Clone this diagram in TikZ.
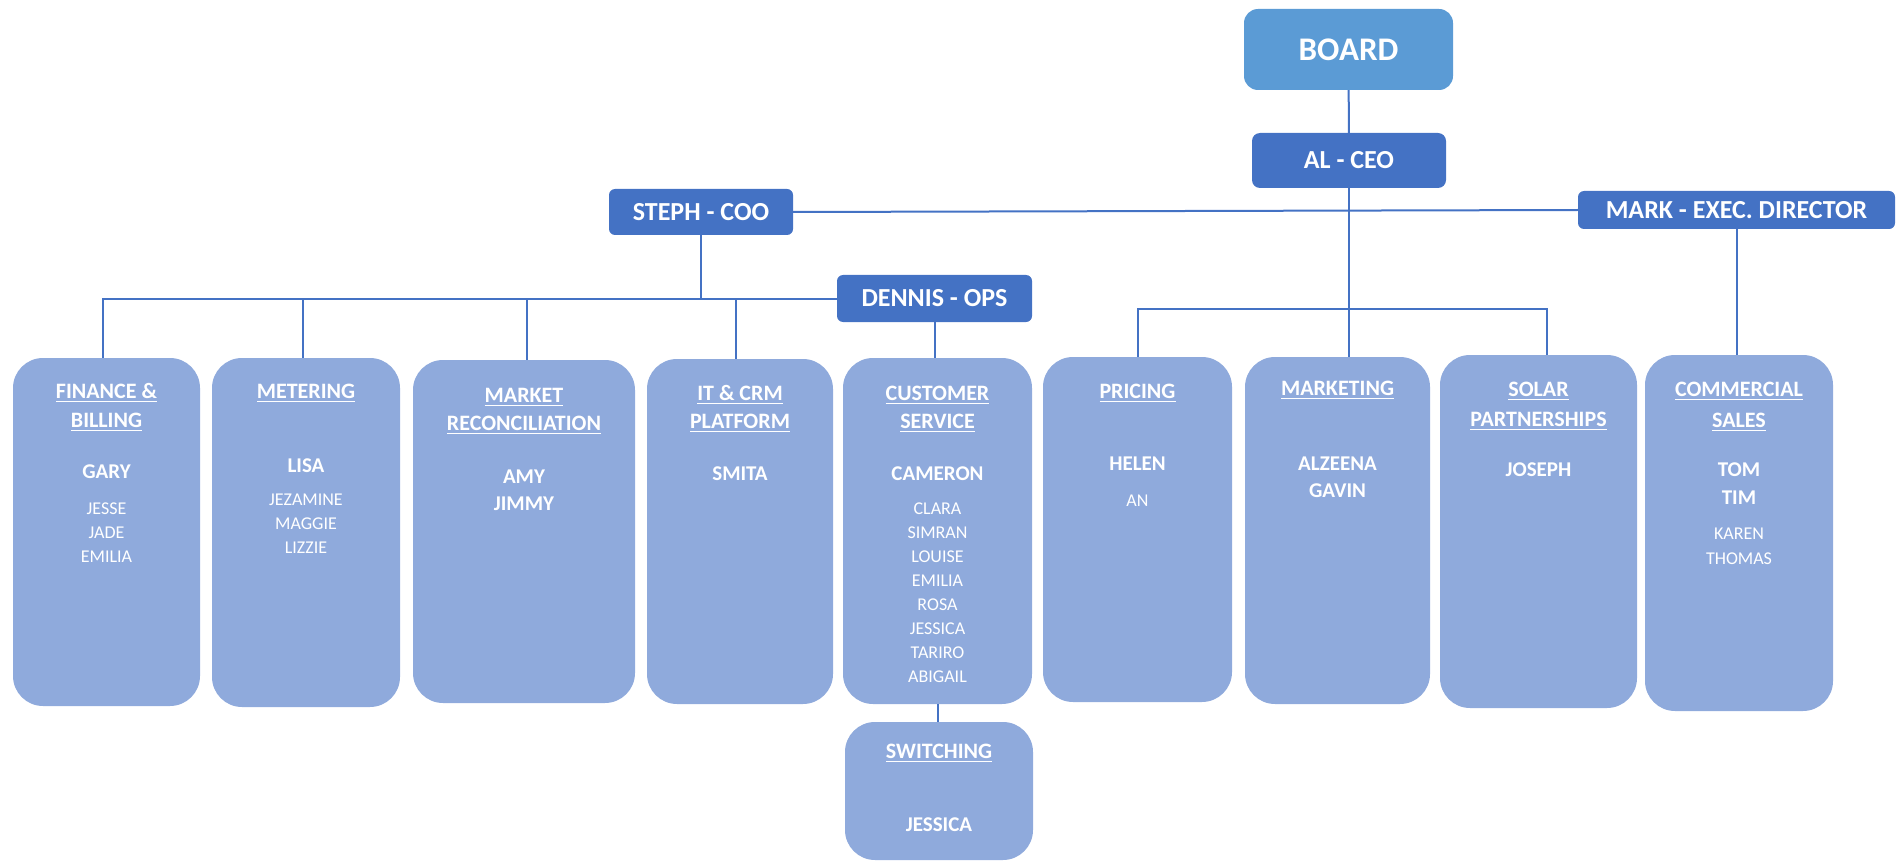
\documentclass[tikz,border=0pt]{standalone}
\usepackage{fontspec}
\setmainfont{Carlito}
\definecolor{darkbox}{RGB}{68,114,196}
\definecolor{boardbox}{RGB}{91,155,213}
\definecolor{unitbox}{RGB}{143,170,220}
\definecolor{linecol}{RGB}{68,114,196}
\newsavebox\ulbox
\newcommand{\ulin}[1]{\sbox\ulbox{#1}\rlap{\rule[-4pt]{\wd\ulbox}{1.5pt}}\usebox\ulbox}
\begin{document}
\begin{tikzpicture}[x=1pt,y=-1pt,
  headbox/.style={rectangle, rounded corners=6pt, fill=darkbox, text=white, inner sep=0pt,
    font=\bfseries\fontsize{26}{30}\selectfont},
  boardnode/.style={rectangle, rounded corners=14pt, fill=boardbox, text=white, inner sep=0pt,
    font=\bfseries\fontsize{33}{38}\selectfont},
  unit/.style={rectangle, rounded corners=30pt, fill=unitbox, inner sep=0pt},
  hdrtxt/.style={text=white, inner sep=0pt, anchor=base, font=\bfseries\fontsize{22}{26}\selectfont},
  leadtxt/.style={text=white, inner sep=0pt, anchor=base, font=\bfseries\fontsize{21}{25}\selectfont},
  stafftxt/.style={text=white, inner sep=0pt, anchor=base, font=\fontsize{18}{21}\selectfont},
  conn/.style={draw=linecol, line width=2pt}]
\useasboundingbox (0,0) rectangle (1899,861);

% ---- top level boxes
\node[boardnode, minimum width=209pt, minimum height=81pt] (board) at (1348.5,49.5) {BOARD};
\node[headbox, rounded corners=8pt, minimum width=194pt, minimum height=55pt] (ceo) at (1349,160.5) {AL - CEO};
\node[headbox, minimum width=184pt, minimum height=46pt] (steph) at (701,212) {STEPH - COO};
\node[headbox, minimum width=317pt, minimum height=38pt] (mark) at (1736.5,210) {MARK - EXEC. DIRECTOR};
\node[headbox, minimum width=195pt, minimum height=47pt] (dennis) at (934.5,298.5) {DENNIS - OPS};

% ---- unit boxes
\node[unit, minimum width=187pt, minimum height=348pt] (fin) at (106.5,532) {};
\node[unit, minimum width=188pt, minimum height=349pt] (met) at (306,532.5) {};
\node[unit, minimum width=222pt, minimum height=343pt] (mrec) at (524,531.5) {};
\node[unit, minimum width=186pt, minimum height=345pt] (itc) at (740,531.5) {};
\node[unit, minimum width=189pt, minimum height=346pt] (cs) at (937.5,531) {};
\node[unit, minimum width=188pt, minimum height=138pt] (sw) at (939,791) {};
\node[unit, minimum width=189pt, minimum height=345pt] (pri) at (1137.5,529.5) {};
\node[unit, minimum width=185pt, minimum height=347pt] (mkt) at (1337.5,530.5) {};
\node[unit, minimum width=197pt, minimum height=353pt] (sol) at (1538.5,531.5) {};
\node[unit, minimum width=188pt, minimum height=356pt] (com) at (1739,533) {};

% ---- connectors
\coordinate (rbus) at (0,309);
\draw[conn] (board) -- (ceo);
\draw[conn] (ceo.south) -- (ceo.south |- mkt.north);
\draw[conn] (steph.east) -- (mark.west);
\draw[conn] (steph.south) -- (steph.south |- dennis.west);
\draw[conn] ([xshift=-4pt]fin.north) |- (dennis.west);
\draw[conn] ([xshift=-3pt]met.north) -- ([xshift=-3pt]met.north |- dennis.west);
\draw[conn] ([xshift=3pt]mrec.north) -- ([xshift=3pt]mrec.north |- dennis.west);
\draw[conn] ([xshift=-4pt]itc.north) -- ([xshift=-4pt]itc.north |- dennis.west);
\draw[conn] (dennis.south) -- (dennis.south |- cs.north);
\draw[conn] (cs.south) -- (cs.south |- sw.north);
\draw[conn] (pri.north) |- ([xshift=8pt]rbus -| sol.north) -- ([xshift=8pt]sol.north);
\draw[conn] (mark.south) -- (mark.south |- com.north);

% ---- Finance & Billing
\node[hdrtxt] (fin-h1) at (106.5,398) {\ulin{FINANCE \&}};
\node[hdrtxt] (fin-h2) at (106.5,427) {\ulin{BILLING}};
\node[leadtxt] (fin-l1) at (106.5,478) {GARY};
\node[stafftxt] (fin-s1) at (106.5,514.5) {JESSE};
\node[stafftxt] (fin-s2) at (106.5,538.5) {JADE};
\node[stafftxt] (fin-s3) at (106.5,562.5) {EMILIA};

% ---- Metering
\node[hdrtxt] (met-h1) at (306,398) {\ulin{METERING}};
\node[leadtxt] (met-l1) at (306,472) {LISA};
\node[stafftxt] (met-s1) at (306,505.5) {JEZAMINE};
\node[stafftxt] (met-s2) at (306,529.5) {MAGGIE};
\node[stafftxt] (met-s3) at (306,553.5) {LIZZIE};

% ---- Market Reconciliation
\node[hdrtxt] (mrec-h1) at (524,402) {\ulin{MARKET}};
\node[hdrtxt] (mrec-h2) at (524,430) {\ulin{RECONCILIATION}};
\node[leadtxt] (mrec-l1) at (524,483) {AMY};
\node[leadtxt] (mrec-l2) at (524,510) {JIMMY};

% ---- IT & CRM Platform
\node[hdrtxt] (itc-h1) at (740,400) {\ulin{IT \& CRM}};
\node[hdrtxt] (itc-h2) at (740,428) {\ulin{PLATFORM}};
\node[leadtxt] (itc-l1) at (740,480) {SMITA};

% ---- Customer Service
\node[hdrtxt] (cs-h1) at (937.5,400) {\ulin{CUSTOMER}};
\node[hdrtxt] (cs-h2) at (937.5,428) {\ulin{SERVICE}};
\node[leadtxt] (cs-l1) at (937.5,480) {CAMERON};
\node[stafftxt] (cs-s1) at (937.5,514.5) {CLARA};
\node[stafftxt] (cs-s2) at (937.5,538.5) {SIMRAN};
\node[stafftxt] (cs-s3) at (937.5,562.5) {LOUISE};
\node[stafftxt] (cs-s4) at (937.5,586.5) {EMILIA};
\node[stafftxt] (cs-s5) at (937.5,610.5) {ROSA};
\node[stafftxt] (cs-s6) at (937.5,634.5) {JESSICA};
\node[stafftxt] (cs-s7) at (937.5,658.5) {TARIRO};
\node[stafftxt] (cs-s8) at (937.5,682.5) {ABIGAIL};

% ---- Switching
\node[hdrtxt] (sw-h1) at (939,758) {\ulin{SWITCHING}};
\node[leadtxt] (sw-l1) at (939,831) {JESSICA};

% ---- Pricing
\node[hdrtxt] (pri-h1) at (1137.5,398) {\ulin{PRICING}};
\node[leadtxt] (pri-l1) at (1137.5,470) {HELEN};
\node[stafftxt] (pri-s1) at (1137.5,506.5) {AN};

% ---- Marketing
\node[hdrtxt] (mkt-h1) at (1337.5,395) {\ulin{MARKETING}};
\node[leadtxt] (mkt-l1) at (1337.5,470) {ALZEENA};
\node[leadtxt] (mkt-l2) at (1337.5,497) {GAVIN};

% ---- Solar Partnerships
\node[hdrtxt] (sol-h1) at (1538.5,396) {\ulin{SOLAR}};
\node[hdrtxt] (sol-h2) at (1538.5,426) {\ulin{PARTNERSHIPS}};
\node[leadtxt] (sol-l1) at (1538.5,476) {JOSEPH};

% ---- Commercial Sales
\node[hdrtxt] (com-h1) at (1739,396) {\ulin{COMMERCIAL}};
\node[hdrtxt] (com-h2) at (1739,427) {\ulin{SALES}};
\node[leadtxt] (com-l1) at (1739,476) {TOM};
\node[leadtxt] (com-l2) at (1739,504) {TIM};
\node[stafftxt] (com-s1) at (1739,539.5) {KAREN};
\node[stafftxt] (com-s2) at (1739,564.5) {THOMAS};
\end{tikzpicture}
\end{document}
